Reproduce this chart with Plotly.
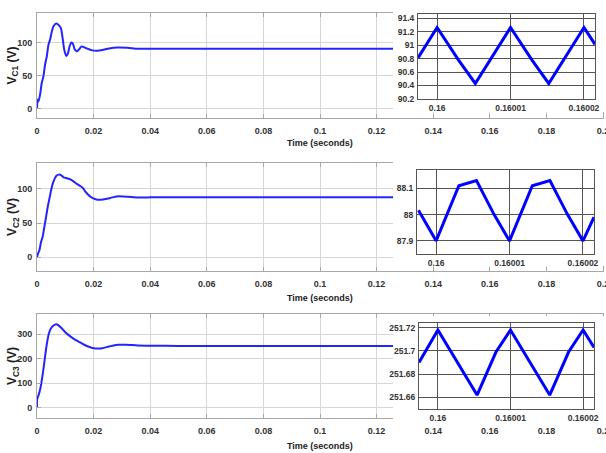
import plotly.graph_objects as go

# ---------------- data ----------------
time_ticks = [0, 0.02, 0.04, 0.06, 0.08, 0.1, 0.12, 0.14, 0.16, 0.18, 0.2]
time_tick_labels = ["0", "0.02", "0.04", "0.06", "0.08", "0.1", "0.12", "0.14", "0.16", "0.18", "0.2"]

t1 = [0, 0.0002, 0.0005, 0.00107, 0.00167, 0.00226, 0.00286, 0.00345, 0.00405, 0.00464,
      0.00524, 0.00583, 0.00679, 0.00762, 0.00845, 0.00905, 0.00964, 0.01036, 0.01095,
      0.01155, 0.01214, 0.01274, 0.01333, 0.01417, 0.01488, 0.01571, 0.01655, 0.01774,
      0.01952, 0.02131, 0.0231, 0.02548, 0.02845, 0.03202, 0.0356, 0.04036, 0.05, 0.07,
      0.1, 0.15, 0.2]
vc1 = [0, 14, 11, 21, 39, 49, 67, 79, 97, 105, 117, 125, 129, 127, 122, 107, 89, 80, 84,
       95, 100.5, 98, 90, 87, 90, 94.4, 93.4, 91, 88.4, 87.9, 88.9, 91.4, 92.9, 92.4, 90.9,
       91.0, 90.9, 90.8, 90.8, 90.8, 90.8]

t2 = [0, 0.0004, 0.00083, 0.00143, 0.002, 0.0026, 0.0032, 0.0038, 0.0044, 0.005, 0.0058,
      0.0068, 0.0077, 0.0086, 0.0094, 0.0106, 0.0118, 0.013, 0.0142, 0.0154, 0.0163, 0.0171,
      0.018, 0.0189, 0.0201, 0.0213, 0.0225, 0.0243, 0.0267, 0.029, 0.032, 0.0356, 0.0404,
      0.05, 0.07, 0.1, 0.15, 0.2]
vc2 = [0, 6, 10, 22.5, 30, 44.6, 59, 74, 86, 98.5, 110.8, 119, 121, 120, 117, 115.7, 114,
       110.8, 107, 104, 101, 96, 92, 88.7, 85.8, 84.3, 84.3, 85.3, 87.7, 89.2, 88.7, 87.6,
       87.8, 88.0, 88.0, 88.0, 88.0, 88.0]

t3 = [0, 0.00005, 0.0006, 0.0012, 0.0018, 0.0024, 0.003, 0.0036, 0.0042, 0.0049, 0.0058,
      0.0068, 0.0076, 0.0088, 0.01, 0.0112, 0.013, 0.0148, 0.0165, 0.0183, 0.0201, 0.0213,
      0.0231, 0.0255, 0.0285, 0.0314, 0.0356, 0.0404, 0.05, 0.07, 0.1, 0.15, 0.2]
vc3 = [0, 35, 53, 80, 120, 168, 222, 269, 303, 323, 335, 340.5, 336, 323, 308, 296, 281,
       269, 258, 249, 243, 242, 243, 250, 257, 257, 254, 253, 252, 251.7, 251.7, 251.7, 251.7]

# zoomed insets (steady-state ripple)
zoom_ticks = [0.16, 0.16001, 0.16002]
zoom_tick_labels = ["0.16", "0.16001", "0.16002"]

tz1 = [0.1599974, 0.16, 0.1600029, 0.1600052, 0.16001, 0.1600129, 0.1600152, 0.16002, 0.1600215]
vz1 = [90.81, 91.26, 90.78, 90.43, 91.26, 90.78, 90.43, 91.26, 91.01]

tz2 = [0.1599976, 0.16, 0.1600031, 0.1600055, 0.1600079, 0.16001, 0.1600131, 0.1600155,
       0.1600179, 0.16002, 0.1600215]
vz2 = [88.017, 87.9, 88.11, 88.13, 88.0, 87.9, 88.11, 88.13, 88.0, 87.9, 87.99]

tz3 = [0.1599974, 0.16, 0.1600054, 0.160008, 0.16001, 0.1600154, 0.160018, 0.16002, 0.1600215]
vz3 = [251.69, 251.718, 251.662, 251.699, 251.718, 251.662, 251.699, 251.718, 251.703]

y_labels = ["<b>V<sub>C1</sub> (V)</b>", "<b>V<sub>C2</sub> (V)</b>", "<b>V<sub>C3</sub> (V)</b>"]
x_title = "<b>Time (seconds)</b>"

# ---------------- layout helpers ----------------
W, H = 606, 453


def dx(a, b):
    return [a / W, b / W]


def dy(top, bottom):
    return [1 - bottom / H, 1 - top / H]


FONT = "Liberation Sans, Arial, sans-serif"
BLUE_MAIN = "#2424ff"
BLUE_ZOOM = "#0000ff"

fig = go.Figure()

main_boxes = [(13, 118), (163, 271), (314, 418)]
xtitle_y = [143, 298, 446]
main_yranges = [[-14, 145], [-20, 138], [-41, 382]]
main_yticks = [[0, 50, 100], [0, 50, 100], [0, 100, 200, 300]]
cover_boxes = [(10, 112), (160, 266), (316, 421)]
zoom_boxes = [((418, 595), (14, 99)), ((417, 594), (170, 254)), ((419, 594), (323, 409))]
zoom_yranges = [[90.2, 91.46], [87.85, 88.17], [251.650, 251.724]]
zoom_yticks = [[90.2, 90.4, 90.6, 90.8, 91.0, 91.2, 91.4], [87.9, 88.0, 88.1],
               [251.66, 251.68, 251.70, 251.72]]
zoom_yticktext = [["90.2", "90.4", "90.6", "90.8", "91", "91.2", "91.4"],
                  ["87.9", "88", "88.1"],
                  ["251.66", "251.68", "251.7", "251.72"]]
main_t = [t1, t2, t3]
main_v = [vc1, vc2, vc3]
zoom_t = [tz1, tz2, tz3]
zoom_v = [vz1, vz2, vz3]
xrange_zoom = [0.1599974, 0.1600215]

layout = dict(
    width=W, height=H, margin=dict(l=0, r=0, t=0, b=0, autoexpand=False),
    paper_bgcolor="white", plot_bgcolor="white", showlegend=False,
    font=dict(family=FONT, color="#333333"),
)
annotations = []

for i in range(3):
    n = i + 1
    sfx = "" if n == 1 else str(n)
    fig.add_trace(go.Scatter(x=main_t[i], y=main_v[i], mode="lines",
                             line=dict(color=BLUE_MAIN, width=2, shape="spline", smoothing=0.6),
                             xaxis="x" + sfx, yaxis="y" + sfx, hoverinfo="skip"))
    top, bot = main_boxes[i]
    layout["xaxis" + sfx] = dict(
        domain=dx(37, 603), range=[0, 0.2], anchor="y" + sfx, automargin=False,
        tickmode="array", tickvals=time_ticks, ticktext=time_tick_labels,
        showgrid=True, gridcolor="#d6d6d6", gridwidth=1, zeroline=False,
        showline=True, linecolor="#a8a8a8", linewidth=1, mirror="ticks",
        ticks="inside", ticklen=4, tickcolor="#a8a8a8",
        tickfont=dict(size=9, color="#333333", family=FONT, weight="bold"),
        ticklabelstandoff=4, ticklabeloverflow="allow",
    )
    layout["yaxis" + sfx] = dict(
        domain=dy(top, bot), range=main_yranges[i], anchor="x" + sfx, automargin=False,
        tickmode="array", tickvals=main_yticks[i],
        showgrid=True, gridcolor="#d6d6d6", gridwidth=1, zeroline=False,
        showline=True, linecolor="#a8a8a8", linewidth=1, mirror="ticks",
        ticks="inside", ticklen=4, tickcolor="#a8a8a8",
        tickfont=dict(size=9, color="#333333", family=FONT, weight="bold"),
        ticklabelstandoff=2,
    )
    annotations.append(dict(text=y_labels[i], x=13 / W, y=1 - ((top + bot) / 2) / H,
                            xref="paper", yref="paper", textangle=-90, showarrow=False,
                            xanchor="center", yanchor="middle",
                            font=dict(size=12, color="#222222", family=FONT)))
    annotations.append(dict(text=x_title, x=320 / W, y=1 - xtitle_y[i] / H,
                            xref="paper", yref="paper", showarrow=False,
                            xanchor="center", yanchor="middle",
                            font=dict(size=9, color="#222222", family=FONT)))

# white cover subplots (hide the main plot under the insets)
for i in range(3):
    n = i + 4
    ctop, cbot = cover_boxes[i]
    fig.add_trace(go.Scatter(x=[], y=[], xaxis="x%d" % n, yaxis="y%d" % n,
                             hoverinfo="skip"))
    layout["xaxis%d" % n] = dict(domain=dx(393, 606), range=[0, 1], visible=False,
                                  anchor="y%d" % n, automargin=False)
    layout["yaxis%d" % n] = dict(domain=dy(ctop, cbot), range=[0, 1], visible=False,
                                  anchor="x%d" % n, automargin=False)

# zoom insets
for i in range(3):
    n = i + 7
    (xl, xr), (zt, zb) = zoom_boxes[i]
    fig.add_trace(go.Scatter(x=zoom_t[i], y=zoom_v[i], mode="lines",
                             line=dict(color=BLUE_ZOOM, width=3),
                             xaxis="x%d" % n, yaxis="y%d" % n, hoverinfo="skip"))
    layout["xaxis%d" % n] = dict(
        domain=dx(xl, xr), range=xrange_zoom, anchor="y%d" % n, automargin=False,
        tickmode="array", tickvals=zoom_ticks, ticktext=zoom_tick_labels,
        showgrid=True, gridcolor="#555555", gridwidth=1, zeroline=False,
        showline=True, linecolor="#555555", linewidth=1, mirror=True, ticks="",
        tickfont=dict(size=8.5, color="#333333", family=FONT, weight="bold"),
        ticklabelstandoff=1,
    )
    layout["yaxis%d" % n] = dict(
        domain=dy(zt, zb), range=zoom_yranges[i], anchor="x%d" % n, automargin=False,
        tickmode="array", tickvals=zoom_yticks[i], ticktext=zoom_yticktext[i],
        showgrid=True, gridcolor="#555555", gridwidth=1, zeroline=False,
        showline=True, linecolor="#555555", linewidth=1, mirror=True, ticks="",
        tickfont=dict(size=8.5, color="#333333", family=FONT, weight="bold"),
        ticklabelstandoff=1,
    )

layout["annotations"] = annotations
fig.update_layout(**layout)
fig.write_html("out.html", config={"displayModeBar": False},
               post_script="document.body.style.margin='0';document.body.style.overflow='hidden';")
